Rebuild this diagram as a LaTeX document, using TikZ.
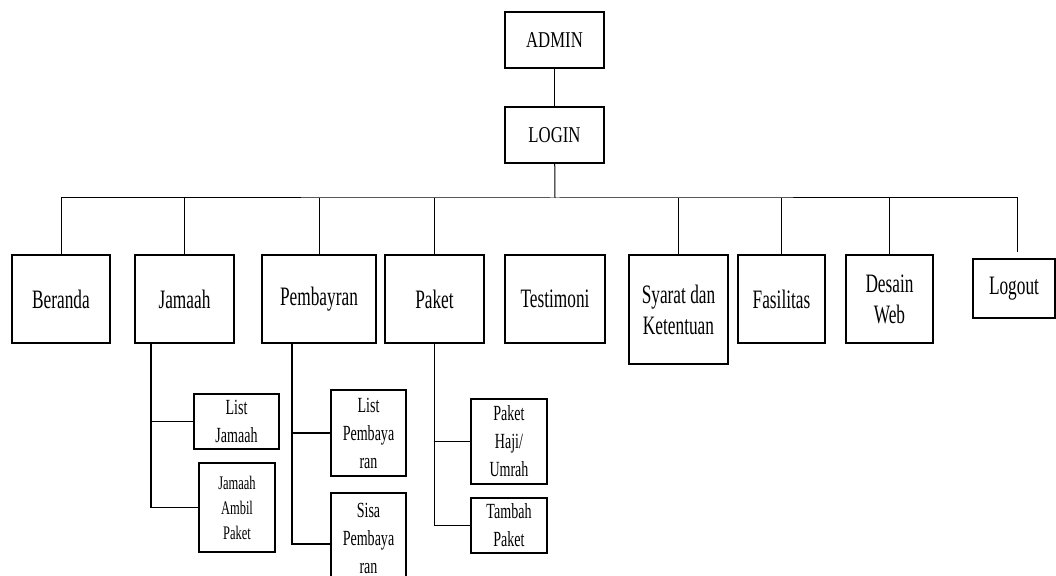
\documentclass[tikz,border=0pt]{standalone}
\usepackage{fontspec}
\setmainfont{Liberation Serif}
\newfontfamily\narrowfont[FakeStretch=0.65]{Liberation Serif}
\newfontfamily\topfont[FakeStretch=0.74]{Liberation Serif}
\usetikzlibrary{calc}

\begin{document}
\begin{tikzpicture}[
    x=0.5pt, y=-0.5pt,
    box/.style={
      draw,
      line width=1pt,
      align=center,
      inner sep=1pt,
      font=\narrowfont\fontsize{13.3}{15.5}\selectfont
    },
    topbox/.style={
      box,
      minimum width=49.5pt,
      minimum height=28pt,
      font=\topfont\fontsize{11.3}{13}\selectfont
    },
    menu/.style={
      box,
      minimum height=44pt
    },
    sub/.style={
      box,
      font=\narrowfont\fontsize{10.8}{14}\selectfont
    },
    link/.style={line width=0.5pt},
    branch/.style={line width=0.9pt}
  ]
    \useasboundingbox (0,0) rectangle (1056,576);

    % Admin and login
    \node[topbox] (admin) at (554.5,40) {ADMIN};
    \node[topbox] (login) at (554.5,135) {LOGIN};

    % Menu row
    \node[menu, minimum width=49pt] (beranda) at (61,299) {Beranda};
    \node[menu, minimum width=49.5pt] (jamaah) at (184.5,299) {Jamaah};
    \node[menu, minimum width=57pt] (pembayran) at (319,299) {Pembayran};
    \node[menu, minimum width=49.5pt] (paket) at (434.5,299) {Paket};
    \node[menu, minimum width=50pt] (testimoni) at (555,299) {Testimoni};
    \node[menu, minimum width=49.5pt, minimum height=54.5pt] (syarat) at (678.5,309.5) {Syarat dan\\Ketentuan};
    \node[menu, minimum width=43.5pt] (fasilitas) at (781.5,299) {Fasilitas};
    \node[menu, minimum width=43.5pt] (desain) at (889.5,299) {Desain\\Web};
    \node[menu, minimum width=41pt, minimum height=29.5pt] (logout) at (1014,288.5) {Logout};

    % Sub menus
    \node[sub, minimum width=42.5pt, minimum height=27.5pt] (listjamaah) at (236.5,421.5) {List\\Jamaah};
    \node[sub, minimum width=38pt, minimum height=44.5pt,
      font=\narrowfont\fontsize{9.6}{12.5}\selectfont] (ambilpaket) at (237,507.5) {Jamaah\\Ambil\\Paket};
    \node[sub, minimum width=37.5pt, minimum height=43pt] (listbayar) at (368.5,433) {List\\Pembaya\\ran};
    \node[sub, minimum width=37.5pt, minimum height=45pt] (sisabayar) at (368.5,538) {Sisa\\Pembaya\\ran};
    \node[sub, minimum width=38pt, minimum height=42.5pt] (hajiumrah) at (509,441.5) {Paket\\Haji/\\Umrah};
    \node[sub, minimum width=38pt, minimum height=27.5pt] (tambahpaket) at (509,525.5) {Tambah\\Paket};

    % Tree lines
    \coordinate (bus) at (555,198);
    \coordinate (logouttop) at (1017,252);
    \draw[link] (admin) -- (login);
    \draw[link] (login) -- (bus);
    \draw[link] (beranda.north) |- (bus) -| (logouttop);
    \foreach \n in {jamaah, pembayran, paket, syarat, fasilitas, desain}
      \draw[link] (\n.north) -- (\n.north |- bus);

    % Sub menu lines
    \coordinate (jamaahline) at ($(jamaah.south west)+(17,0)$);
    \coordinate (bayarline) at ($(pembayran.south west)+(31,0)$);
    \draw[branch] (jamaahline) |- (ambilpaket.west);
    \draw[branch] (listjamaah.west) -- (listjamaah.west -| jamaahline);
    \draw[branch] (bayarline) |- ($(sisabayar.west)+(0,6)$);
    \draw[branch] (listbayar.west) -- (listbayar.west -| bayarline);
    \draw[branch] (paket.south) |- (tambahpaket.west);
    \draw[branch] (hajiumrah.west) -- (hajiumrah.west -| paket.south);

  \end{tikzpicture}
\end{document}
